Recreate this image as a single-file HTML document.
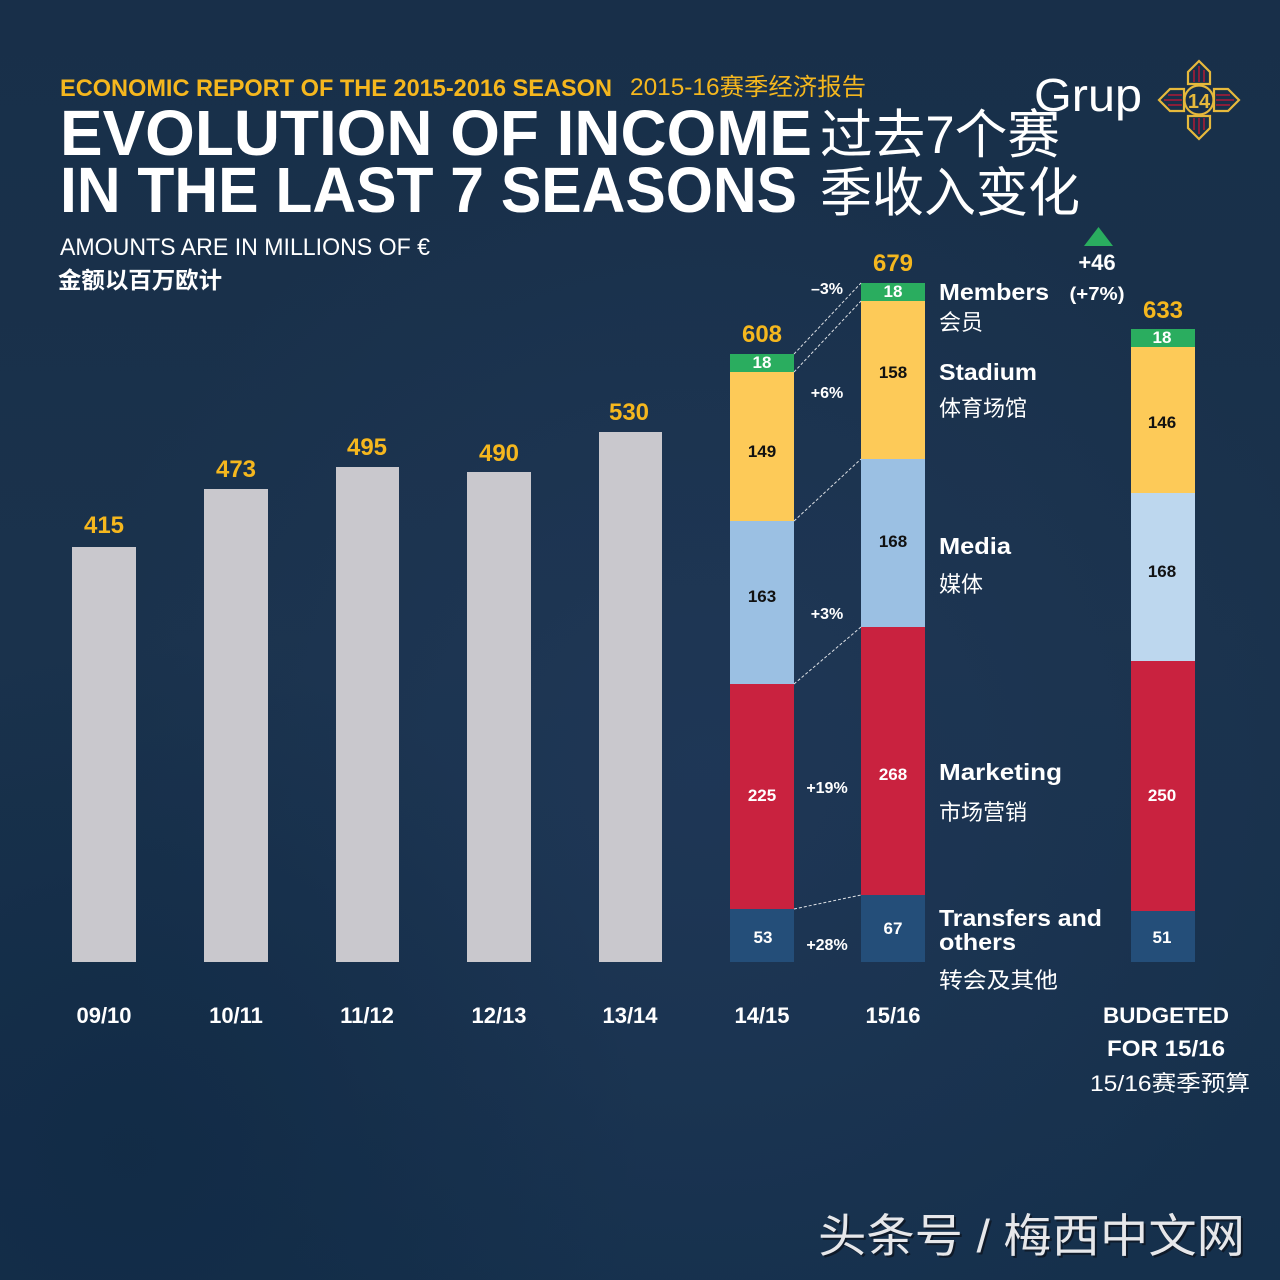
<!DOCTYPE html>
<html><head><meta charset="utf-8"><style>
html,body{margin:0;padding:0;width:1280px;height:1280px;overflow:hidden;background:#17304b;}
svg{display:block;}
text{font-family:"Liberation Sans","Noto Sans CJK SC",sans-serif;}
.b{font-weight:bold;}
</style></head><body>
<svg width="1280" height="1280" viewBox="0 0 1280 1280" xmlns="http://www.w3.org/2000/svg">
<defs>
<radialGradient id="g1" cx="0.55" cy="0.6" r="0.5">
<stop offset="0" stop-color="#21395a" stop-opacity="0.7"/>
<stop offset="1" stop-color="#21395a" stop-opacity="0"/>
</radialGradient>
<radialGradient id="g2" cx="0.1" cy="0.9" r="0.4">
<stop offset="0" stop-color="#112a45" stop-opacity="0.8"/>
<stop offset="1" stop-color="#112a45" stop-opacity="0"/>
</radialGradient>
<linearGradient id="g3" x1="0" y1="0" x2="0" y2="1">
<stop offset="0" stop-color="#182f49"/>
<stop offset="0.5" stop-color="#1a324c"/>
<stop offset="1" stop-color="#15304c"/>
</linearGradient>
</defs>
<rect width="1280" height="1280" fill="url(#g3)"/>
<rect width="1280" height="1280" fill="url(#g1)"/>
<rect width="1280" height="1280" fill="url(#g2)"/>

<!-- Header -->
<text x="60" y="96" font-size="24" class="b" fill="#f5b71e" textLength="552" lengthAdjust="spacingAndGlyphs">ECONOMIC REPORT OF THE 2015-2016 SEASON</text>
<text x="630" y="95" font-size="24" fill="#f5b71e" textLength="236" lengthAdjust="spacingAndGlyphs">2015-16赛季经济报告</text>
<text x="60" y="155" font-size="64" class="b" fill="#ffffff" textLength="752" lengthAdjust="spacingAndGlyphs">EVOLUTION OF INCOME</text>
<text x="60" y="212" font-size="64" class="b" fill="#ffffff" textLength="737" lengthAdjust="spacingAndGlyphs">IN THE LAST 7 SEASONS</text>
<text x="820" y="153" font-size="53" fill="#ffffff" textLength="240" lengthAdjust="spacingAndGlyphs">过去7个赛</text>
<text x="820" y="211" font-size="53" fill="#ffffff" textLength="260" lengthAdjust="spacingAndGlyphs">季收入变化</text>
<text x="60" y="255" font-size="24" fill="#ffffff" textLength="370" lengthAdjust="spacingAndGlyphs">AMOUNTS ARE IN MILLIONS OF €</text>
<text x="58" y="288" font-size="23" class="b" fill="#ffffff" textLength="164" lengthAdjust="spacingAndGlyphs">金额以百万欧计</text>

<!-- Grup logo -->
<text x="1034" y="111" font-size="46" fill="#ffffff" textLength="108" lengthAdjust="spacingAndGlyphs">Grup</text>
<g fill="none" stroke="#e6b93c" stroke-width="2.2">
<polygon points="1199,61 1210,72 1210,84 1188,84 1188,72"/>
<polygon points="1188,116 1210,116 1210,128 1199,139 1188,128"/>
<polygon points="1159,100 1170,89 1184,89 1184,111 1170,111"/>
<polygon points="1239,100 1228,89 1214,89 1214,111 1228,111"/>
<circle cx="1199" cy="100" r="14.5"/>
</g>
<g stroke="#8a1f3a" stroke-width="2">
<line x1="1194" y1="70" x2="1194" y2="82"/><line x1="1199" y1="66" x2="1199" y2="82"/><line x1="1204" y1="70" x2="1204" y2="82"/>
<line x1="1194" y1="118" x2="1194" y2="130"/><line x1="1199" y1="118" x2="1199" y2="134"/><line x1="1204" y1="118" x2="1204" y2="130"/>
<line x1="1168" y1="95" x2="1182" y2="95"/><line x1="1164" y1="100" x2="1182" y2="100"/><line x1="1168" y1="105" x2="1182" y2="105"/>
<line x1="1216" y1="95" x2="1230" y2="95"/><line x1="1216" y1="100" x2="1234" y2="100"/><line x1="1216" y1="105" x2="1230" y2="105"/>
</g>
<text x="1199" y="108" font-size="20" class="b" fill="#e6b93c" text-anchor="middle">14</text>

<!-- Gray bars -->
<g fill="#c9c8cd">
<rect x="72" y="547" width="64" height="415"/>
<rect x="204" y="489" width="64" height="473"/>
<rect x="336" y="467" width="63" height="495"/>
<rect x="467" y="472" width="64" height="490"/>
<rect x="599" y="432" width="63" height="530"/>
</g>
<g font-size="24" class="b" fill="#f5b71e" text-anchor="middle">
<text x="104" y="533">415</text>
<text x="236" y="477">473</text>
<text x="367" y="455">495</text>
<text x="499" y="461">490</text>
<text x="629" y="420">530</text>
<text x="762" y="342">608</text>
<text x="893" y="271">679</text>
<text x="1163" y="318">633</text>
</g>

<!-- 14/15 stacked -->
<rect x="730" y="354" width="64" height="18" fill="#2aad5f"/>
<rect x="730" y="372" width="64" height="149" fill="#fdca58"/>
<rect x="730" y="521" width="64" height="163" fill="#9bc0e3"/>
<rect x="730" y="684" width="64" height="225" fill="#c9223f"/>
<rect x="730" y="909" width="64" height="53" fill="#244e79"/>
<!-- 15/16 stacked -->
<rect x="861" y="283" width="64" height="18" fill="#2aad5f"/>
<rect x="861" y="301" width="64" height="158" fill="#fdca58"/>
<rect x="861" y="459" width="64" height="168" fill="#9bc0e3"/>
<rect x="861" y="627" width="64" height="268" fill="#c9223f"/>
<rect x="861" y="895" width="64" height="67" fill="#244e79"/>
<!-- Budget stacked -->
<rect x="1131" y="329" width="64" height="18" fill="#2aad5f"/>
<rect x="1131" y="347" width="64" height="146" fill="#fdca58"/>
<rect x="1131" y="493" width="64" height="168" fill="#bdd7ee"/>
<rect x="1131" y="661" width="64" height="250" fill="#c9223f"/>
<rect x="1131" y="911" width="64" height="51" fill="#244e79"/>

<!-- dashed connectors -->
<g stroke="#ffffff" stroke-opacity="0.85" stroke-width="1" stroke-dasharray="3 2">
<line x1="794" y1="354" x2="861" y2="283"/>
<line x1="794" y1="372" x2="861" y2="301"/>
<line x1="794" y1="521" x2="861" y2="459"/>
<line x1="794" y1="684" x2="861" y2="627"/>
<line x1="794" y1="909" x2="861" y2="895"/>
</g>

<!-- segment labels -->
<g font-size="17" class="b" text-anchor="middle">
<text x="762" y="368" fill="#ffffff">18</text>
<text x="762" y="457" fill="#111111">149</text>
<text x="762" y="602" fill="#111111">163</text>
<text x="762" y="801" fill="#ffffff">225</text>
<text x="763" y="943" fill="#ffffff">53</text>
<text x="893" y="297" fill="#ffffff">18</text>
<text x="893" y="378" fill="#111111">158</text>
<text x="893" y="547" fill="#111111">168</text>
<text x="893" y="780" fill="#ffffff">268</text>
<text x="893" y="934" fill="#ffffff">67</text>
<text x="1162" y="343" fill="#ffffff">18</text>
<text x="1162" y="428" fill="#111111">146</text>
<text x="1162" y="577" fill="#111111">168</text>
<text x="1162" y="801" fill="#ffffff">250</text>
<text x="1162" y="943" fill="#ffffff">51</text>
</g>

<!-- percent labels -->
<g font-size="16" class="b" fill="#ffffff" text-anchor="middle">
<text x="827" y="294">–3%</text>
<text x="827" y="398">+6%</text>
<text x="827" y="619">+3%</text>
<text x="827" y="793">+19%</text>
<text x="827" y="950">+28%</text>
</g>

<!-- +46 -->
<polygon points="1084,246 1113,246 1098.5,227" fill="#2aad5f"/>
<text x="1097" y="270" font-size="22" class="b" fill="#ffffff" text-anchor="middle">+46</text>
<text x="1097" y="300" font-size="18" class="b" fill="#ffffff" text-anchor="middle" textLength="55" lengthAdjust="spacingAndGlyphs">(+7%)</text>

<!-- legend labels -->
<g fill="#ffffff">
<text x="939" y="300" font-size="23" class="b" textLength="110" lengthAdjust="spacingAndGlyphs">Members</text>
<text x="939" y="330" font-size="22">会员</text>
<text x="939" y="380" font-size="23" class="b" textLength="98" lengthAdjust="spacingAndGlyphs">Stadium</text>
<text x="939" y="416" font-size="22">体育场馆</text>
<text x="939" y="554" font-size="23" class="b" textLength="72" lengthAdjust="spacingAndGlyphs">Media</text>
<text x="939" y="592" font-size="22">媒体</text>
<text x="939" y="780" font-size="23" class="b" textLength="123" lengthAdjust="spacingAndGlyphs">Marketing</text>
<text x="939" y="820" font-size="22">市场营销</text>
<text x="939" y="926" font-size="23" class="b" textLength="163" lengthAdjust="spacingAndGlyphs">Transfers and</text>
<text x="939" y="950" font-size="23" class="b" textLength="77" lengthAdjust="spacingAndGlyphs">others</text>
<text x="939" y="988" font-size="22" textLength="119" lengthAdjust="spacingAndGlyphs">转会及其他</text>
</g>

<!-- x labels -->
<g font-size="22" class="b" fill="#ffffff" text-anchor="middle">
<text x="104" y="1023">09/10</text>
<text x="236" y="1023">10/11</text>
<text x="367" y="1023">11/12</text>
<text x="499" y="1023">12/13</text>
<text x="630" y="1023">13/14</text>
<text x="762" y="1023">14/15</text>
<text x="893" y="1023">15/16</text>
<text x="1166" y="1023" textLength="126" lengthAdjust="spacingAndGlyphs">BUDGETED</text>
<text x="1166" y="1056" textLength="118" lengthAdjust="spacingAndGlyphs">FOR 15/16</text>
</g>
<text x="1170" y="1091" font-size="22" fill="#ffffff" text-anchor="middle" textLength="160" lengthAdjust="spacingAndGlyphs">15/16赛季预算</text>

<!-- watermark -->
<text x="820" y="1254" font-size="46" fill="#0e1520" fill-opacity="0.8" textLength="427" lengthAdjust="spacingAndGlyphs">头条号 / 梅西中文网</text>
<text x="818" y="1252" font-size="46" fill="#e6e7ea" textLength="427" lengthAdjust="spacingAndGlyphs">头条号 / 梅西中文网</text>
</svg>
</body></html>
